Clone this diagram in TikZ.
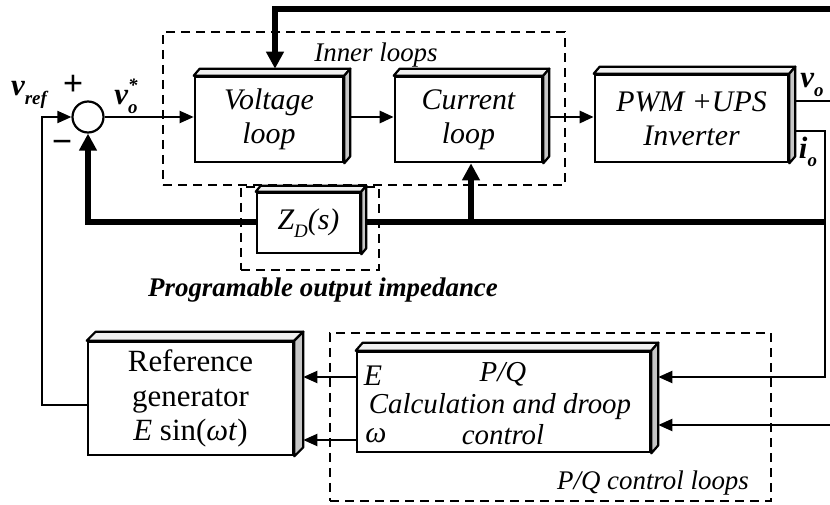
\documentclass[tikz,border=0pt]{standalone}
\usepackage{fontspec}
\setmainfont{Liberation Serif}
\usetikzlibrary{arrows.meta,calc,backgrounds}

% top and side faces of a raised block
\newcommand\cubefaces[3]{%
  \filldraw[face, fill=gray!12] (#1.north west) -- ++(#2,#3) -- ($(#1.north east)+(#2,#3)$) -- (#1.north east) -- cycle;
  \filldraw[face, fill=gray!45] (#1.north east) -- ($(#1.north east)+(#2,#3)$) -- ($(#1.south east)+(#2,#3)$) -- (#1.south east) -- cycle;
}
% subscript, and stacked sub/superscript, for signal names
\newcommand\sbs[1]{\raisebox{-0.28em}{\fontsize{19}{19}\selectfont #1}}
\newcommand\sbsp[2]{\rlap{\raisebox{-0.28em}{\fontsize{19}{19}\selectfont #1}}\raisebox{0.42em}{\fontsize{19}{19}\selectfont #2}}

\begin{document}
\begin{tikzpicture}[x=1bp,y=-1bp,
  blk/.style={draw, line width=2.6bp, fill=white, inner sep=0pt, align=center,
              font=\fontsize{30}{34}\selectfont\itshape},
  face/.style={draw, line width=2.2bp, line join=round},
  wire/.style={line width=2bp},
  midwire/.style={line width=2.8bp},
  bus/.style={line width=5.8bp},
  tip/.style={-{Triangle[length=14bp,width=12bp]}},
  bigtip/.style={-{Triangle[length=17bp,width=17bp]}},
  group/.style={draw, line width=2.6bp, dash pattern=on 9bp off 6bp, inner sep=0pt},
  lab/.style={inner sep=0pt, align=center, font=\fontsize{27}{30}\selectfont\itshape},
  pqline/.style={inner sep=0pt, text height=18bp, text depth=4bp, font=\fontsize{29}{32}\selectfont\itshape},
  sig/.style={inner sep=0pt, font=\fontsize{31}{32}\selectfont\bfseries\itshape},
]
\useasboundingbox (0,0) rectangle (830,505);

% blocks
\node[blk, minimum width=148bp, minimum height=85bp] (vl) at (269,119.5) {Voltage\\loop};
\cubefaces{vl}{6}{-7}
\node[blk, minimum width=147bp, minimum height=85bp] (cl) at (468.5,119.5) {Current\\loop};
\cubefaces{cl}{6}{-7}
\node[blk, minimum width=193bp, minimum height=87bp] (pwm) at (691.5,118.5) {PWM +UPS\\Inverter};
\cubefaces{pwm}{6}{-7}
\node[blk, minimum width=103bp, minimum height=60bp] (zd) at (308.5,223) {Z\sbs{D}(s)};
\cubefaces{zd}{5}{-6}
\node[blk, font=\fontsize{31}{35}\selectfont, minimum width=205bp, minimum height=113bp] (rg) at (190.5,398.5)
  {Reference\\generator\\\textit{E} sin(\textit{ωt})};
\cubefaces{rg}{9}{-9}
\node[blk, minimum width=293bp, minimum height=100bp] (pq) at (503.5,402) {};
\cubefaces{pq}{7}{-8}
\node[pqline] (pqt1) at (503,374) {P/Q};
\node[pqline] (pqt2) at (500,406) {Calculation and droop};
\node[pqline] (pqt3) at (503,437) {control};

% summing junction
\node[draw, circle, line width=2.2bp, minimum size=31bp, inner sep=0pt, fill=white] (sum) at (88,117) {};

% labels
\node[lab] (innerlbl) at (376,55) {Inner loops};
\node[lab, font=\fontsize{27}{30}\selectfont\bfseries\itshape] (zdlbl) at (323,290) {Programable output impedance};
\node[lab] (pqlbl) at (653,483) {P/Q control loops};
\node[sig] (vref) at (29,95) {v\sbs{ref}};
\node[sig, font=\fontsize{36}{36}\selectfont\bfseries] (plus) at (73,85) {+};
\node[sig, font=\fontsize{36}{36}\selectfont\bfseries] (minus) at (62,147) {−};
\node[sig] (vostar) at (126,96) {v\sbsp{o}{*}};
\node[sig] (volbl) at (812,85) {v\sbs{o}};
\node[sig] (iolbl) at (808,152) {i\sbs{o}};
\node[sig, font=\fontsize{30}{32}\selectfont\itshape] (Elbl) at (373,376) {E};
\node[sig, font=\fontsize{30}{32}\selectfont\itshape] (wlbl) at (376,436) {ω};

\begin{scope}[on background layer]
  % dashed groupings
  \node[group, minimum width=402bp, minimum height=153bp] (innerbox) at (364,108.5) {};
  \node[group, minimum width=138bp, minimum height=83bp] (zdbox) at (310,228.5) {};
  \node[group, minimum width=441bp, minimum height=168bp] (pqbox) at (550.5,417) {};

  \coordinate (topR) at (830,9);
  \coordinate (tap) at (275,9);
  \coordinate (voR) at (830,101);
  \coordinate (ioC) at (825,131);
  \coordinate (pR) at (825,377);
  \coordinate (busR) at (825,222);
  \coordinate (busT) at (471,222);
  \coordinate (pinR) at (830,425);
  \coordinate (Erow) at (340,377);
  \coordinate (wrow) at (340,440);
  \coordinate (lc) at (42,405);

  % outer voltage feedback into the voltage loop
  \draw[bus, bigtip] (topR) -- (tap) -- ($(tap |- vl.north)+(0,-7)$);
  % forward path
  \draw[wire, tip] (sum.east) -- (sum.east -| vl.west);
  \draw[midwire, tip] (sum.east -| vl.east) -- (sum.east -| cl.west);
  \draw[midwire, tip] (sum.east -| cl.east) -- (sum.east -| pwm.west);
  % outputs
  \draw[wire] (voR -| pwm.east) -- (voR);
  \draw[wire, tip] (ioC -| pwm.east) -- (ioC) -- (pR) -- ($(pR -| pq.east)+(7,0)$);
  \draw[wire, tip] (pinR) -- ($(pinR -| pq.east)+(7,0)$);
  % current feedback through the virtual impedance
  \draw[bus] (busR) -- (busR -| zd.east);
  \draw[bus, bigtip] (busR -| zd.west) -- (busR -| sum.south) -- (sum.south);
  \draw[bus, bigtip] (busT) -- (busT |- cl.south);
  % droop outputs to the reference generator
  \draw[wire, tip] (Erow -| pq.west) -- ($(Erow -| rg.east)+(9,0)$);
  \draw[wire, tip] (wrow -| pq.west) -- ($(wrow -| rg.east)+(9,0)$);
  % reference into the summing junction
  \draw[wire, tip] (lc -| rg.west) -- (lc) -- (lc |- sum.west) -- (sum.west);
\end{scope}
\end{tikzpicture}
\end{document}
